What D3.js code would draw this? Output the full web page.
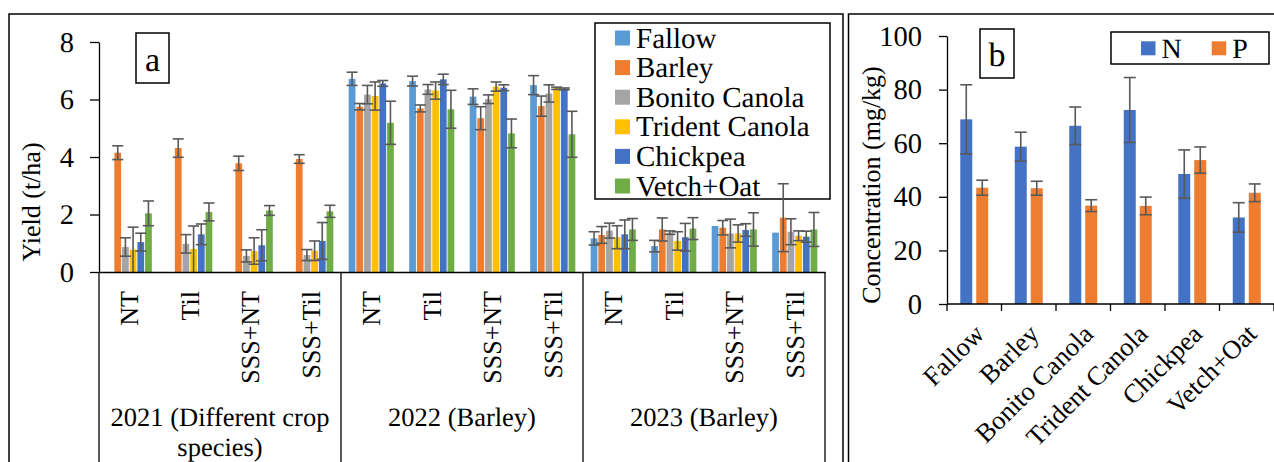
<!DOCTYPE html>
<html>
<head>
<meta charset="utf-8">
<script src="https://cdn.jsdelivr.net/npm/d3@7"></script>
<style>
  html, body { margin: 0; padding: 0; background: #fff; }
  svg { display: block; text-rendering: geometricPrecision; }
  svg text { font-family: "Liberation Serif", "Times New Roman", Times, serif !important; fill: #000; }
</style>
</head>
<body>
<svg id="chart" width="1274" height="462"></svg>
<script>
// ---- Panel a: yield by year and tillage treatment ----
const years = ["2021", "2022", "2023"];
const yearLabels = [["2021 (Different crop", "species)"], ["2022 (Barley)"], ["2023 (Barley)"]];
const treatments = ["NT", "Til", "SSS+NT", "SSS+Til"];
const crops = ["Fallow", "Barley", "Bonito Canola", "Trident Canola", "Chickpea", "Vetch+Oat"];
const cropColors = ["#5B9BD5", "#ED7D31", "#A5A5A5", "#FFC000", "#4472C4", "#70AD47"];
const yieldTicks = [0, 2, 4, 6, 8];

// yields (t/ha), ordered 2021 NT..SSS+Til, 2022 NT..SSS+Til, 2023 NT..SSS+Til
const fallowYield   = [null, null, null, null, 6.72, 6.64, 6.10, 6.50, 1.17, 0.90, 1.60, 1.37];
const fallowErr     = [null, null, null, null, 0.23, 0.17, 0.27, 0.33, 0.23, 0.20, null, null];
const barleyYield   = [4.15, 4.31, 3.78, 3.93, 5.75, 5.69, 5.35, 5.77, 1.29, 1.48, 1.54, 1.89];
const barleyErr     = [0.24, 0.32, 0.25, 0.15, 0.11, 0.12, 0.40, 0.35, 0.29, 0.40, 0.25, 1.18];
const bonitoYield   = [0.87, 0.98, 0.56, 0.59, 6.17, 6.35, 6.01, 6.21, 1.44, 1.37, 1.34, 1.40];
const bonitoErr     = [0.32, 0.32, 0.21, 0.19, 0.32, 0.17, 0.15, 0.30, 0.26, 0.06, 0.50, 0.45];
const tridentYield  = [0.78, 0.80, 0.73, 0.74, 6.12, 6.31, 6.45, 6.39, 1.21, 1.08, 1.34, 1.26];
const tridentErr    = [0.78, 0.80, 0.46, 0.34, 0.49, 0.30, 0.16, 0.04, 0.40, 0.32, 0.30, 0.17];
const chickpeaYield = [1.04, 1.31, 0.93, 1.08, 6.56, 6.70, 6.41, 6.37, 1.31, 1.21, 1.46, 1.23];
const chickpeaErr   = [0.31, 0.36, 0.54, 0.64, 0.10, 0.18, 0.10, 0.03, 0.50, 0.48, 0.22, 0.19];
const vetchYield    = [2.04, 2.09, 2.14, 2.11, 5.19, 5.66, 4.82, 4.79, 1.48, 1.51, 1.48, 1.48];
const vetchErr      = [0.43, 0.31, 0.17, 0.21, 0.75, 0.66, 0.50, 0.80, 0.38, 0.38, 0.58, 0.59];

// ---- Panel b: soil N and P under each crop ----
const nutrients = ["N", "P"];
const nutrientColors = ["#4472C4", "#ED7D31"];
const nValues = [68.9, 58.7, 66.5, 72.4, 48.5, 32.3];
const nErr    = [12.9, 5.4, 7.0, 12.1, 9.0, 5.5];
const pValues = [43.4, 43.2, 36.7, 36.6, 53.7, 41.5];
const pErr    = [2.8, 2.6, 2.2, 3.3, 4.9, 3.3];
const concTicks = [0, 20, 40, 60, 80, 100];

const yieldSeries = [
  [fallowYield, fallowErr], [barleyYield, barleyErr], [bonitoYield, bonitoErr],
  [tridentYield, tridentErr], [chickpeaYield, chickpeaErr], [vetchYield, vetchErr]
];

const svg = d3.select("#chart");
const errColor = "#595959";
const TICK_FONT = 28.5;
const LEGEND_FONT = 29;

// ---------- Panel frames ----------
svg.append("rect").attr("x", 9).attr("y", 14).attr("width", 834).attr("height", 470)
  .attr("fill", "none").attr("stroke", "#000").attr("stroke-width", 1.5);
svg.append("rect").attr("x", 848.5).attr("y", 14).attr("width", 440).attr("height", 470)
  .attr("fill", "none").attr("stroke", "#000").attr("stroke-width", 1.5);

// ---------- Panel a ----------
const aLeft = 99, aRight = 825, aTop = 42, aBottom = 272;
const keys = [];
years.forEach(yr => treatments.forEach(t => keys.push(yr + "|" + t)));

const x0 = d3.scaleBand().domain(keys).range([aLeft, aRight]);
const x1 = d3.scaleBand().domain(crops).range([0, x0.bandwidth()]).paddingInner(0.12).paddingOuter(1);
const xYear = d3.scaleBand().domain(years).range([aLeft, aRight]);
const yA = d3.scaleLinear().domain([0, 8]).range([aBottom, aTop]);

// legend (drawn first so error bars stay visible over it)
const legA = svg.append("g");
legA.append("rect").attr("x", 595).attr("y", 23).attr("width", 235).attr("height", 176)
  .attr("fill", "#fff").attr("stroke", "#000").attr("stroke-width", 1.5);
crops.forEach((c, i) => {
  const cy = 38 + i * 29.6;
  legA.append("rect").attr("x", 615).attr("y", cy - 7.5).attr("width", 15).attr("height", 15)
    .attr("fill", cropColors[i]);
  legA.append("text").attr("x", 636).attr("y", cy + 9.5).attr("font-size", LEGEND_FONT).text(c);
});

// bars
const barsA = svg.append("g");
yieldSeries.forEach(([vals, errs], ci) => {
  const crop = crops[ci];
  keys.forEach((k, ki) => {
    const v = vals[ki];
    if (v == null) return;
    const bx = x0(k) + x1(crop);
    barsA.append("rect")
      .attr("x", bx).attr("y", yA(v))
      .attr("width", x1.bandwidth()).attr("height", yA(0) - yA(v))
      .attr("fill", cropColors[ci]);
  });
});
// error bars
const errA = svg.append("g").attr("stroke", errColor).attr("stroke-width", 1.6);
yieldSeries.forEach(([vals, errs], ci) => {
  const crop = crops[ci];
  keys.forEach((k, ki) => {
    const v = vals[ki], e = errs[ki];
    if (v == null || e == null) return;
    const cx = x0(k) + x1(crop) + x1.bandwidth() / 2;
    const hi = yA(v + e), lo = yA(Math.max(0, v - e));
    errA.append("line").attr("x1", cx).attr("x2", cx).attr("y1", hi).attr("y2", lo);
    errA.append("line").attr("x1", cx - 5.5).attr("x2", cx + 5.5).attr("y1", hi).attr("y2", hi);
    if (v - e > 0) errA.append("line").attr("x1", cx - 5.5).attr("x2", cx + 5.5).attr("y1", lo).attr("y2", lo);
  });
});

// y axis
const yAxisA = svg.append("g").attr("transform", `translate(${aLeft},0)`)
  .call(d3.axisLeft(yA).tickValues(yieldTicks).tickSize(9).tickPadding(16).tickSizeOuter(0));
yAxisA.select(".domain").attr("stroke", "#000").attr("stroke-width", 1.3);
yAxisA.selectAll(".tick line").attr("stroke", "#000").attr("stroke-width", 1.3);
yAxisA.selectAll("text").attr("font-size", TICK_FONT);

svg.append("text").attr("transform", `translate(39.5,202) rotate(-90)`)
  .attr("text-anchor", "middle").attr("font-size", 26).text("Yield (t/ha)");

// category axis (treatments, then years)
const xAxisA = svg.append("g").attr("transform", `translate(0,${aBottom})`)
  .call(d3.axisBottom(x0).tickSize(0).tickSizeOuter(0).tickFormat(k => k.split("|")[1]));
xAxisA.select(".domain").attr("stroke", "#000").attr("stroke-width", 1.5);
xAxisA.selectAll(".tick text")
  .attr("font-size", 26)
  .attr("text-anchor", "end")
  .attr("transform", "rotate(-90)")
  .attr("x", -19).attr("y", 0).attr("dy", "0.35em");

const yearDividers = years.map(y => xYear(y)).concat([aRight]);
svg.append("g").selectAll("line").data(yearDividers).join("line")
  .attr("x1", d => d).attr("x2", d => d).attr("y1", aBottom).attr("y2", 470)
  .attr("stroke", "#000").attr("stroke-width", 1.3);

// year labels, one text per line so wrapped lines keep clear of each other
years.forEach((y, i) => {
  yearLabels[i].forEach((line, li) => {
    svg.append("text").attr("text-anchor", "middle").attr("font-size", 26.5)
      .attr("x", xYear(y) + xYear.bandwidth() / 2).attr("y", 426 + li * 30).text(line);
  });
});

// panel tag
svg.append("rect").attr("x", 136).attr("y", 33).attr("width", 33).attr("height", 50)
  .attr("fill", "#fff").attr("stroke", "#000").attr("stroke-width", 1.5);
svg.append("text").attr("x", 152.5).attr("y", 71).attr("text-anchor", "middle")
  .attr("font-size", 34).text("a");

// ---------- Panel b ----------
const bLeft = 947, bRight = 1274, bTop = 36, bBottom = 304;
const xb0 = d3.scaleBand().domain(crops).range([bLeft, bRight]);
const xb1 = d3.scaleBand().domain(nutrients).range([0, xb0.bandwidth()]).paddingInner(0.25).paddingOuter(0.83);
const yB = d3.scaleLinear().domain([0, 100]).range([bBottom, bTop]);

const nutrientSeries = [[nValues, nErr], [pValues, pErr]];
const barsB = svg.append("g");
nutrientSeries.forEach(([vals], ni) => {
  crops.forEach((c, ci) => {
    barsB.append("rect")
      .attr("x", xb0(c) + xb1(nutrients[ni])).attr("y", yB(vals[ci]))
      .attr("width", xb1.bandwidth()).attr("height", yB(0) - yB(vals[ci]))
      .attr("fill", nutrientColors[ni]);
  });
});
const errB = svg.append("g").attr("stroke", errColor).attr("stroke-width", 1.6);
nutrientSeries.forEach(([vals, errs], ni) => {
  crops.forEach((c, ci) => {
    const cx = xb0(c) + xb1(nutrients[ni]) + xb1.bandwidth() / 2;
    const hi = yB(vals[ci] + errs[ci]), lo = yB(vals[ci] - errs[ci]);
    errB.append("line").attr("x1", cx).attr("x2", cx).attr("y1", hi).attr("y2", lo);
    errB.append("line").attr("x1", cx - 6).attr("x2", cx + 6).attr("y1", hi).attr("y2", hi);
    errB.append("line").attr("x1", cx - 6).attr("x2", cx + 6).attr("y1", lo).attr("y2", lo);
  });
});

const yAxisB = svg.append("g").attr("transform", `translate(${bLeft},0)`)
  .call(d3.axisLeft(yB).tickValues(concTicks).tickSize(8).tickPadding(17).tickSizeOuter(0));
yAxisB.select(".domain").attr("stroke", "#000").attr("stroke-width", 1.3);
yAxisB.selectAll(".tick line").attr("stroke", "#000").attr("stroke-width", 1.3);
yAxisB.selectAll("text").attr("font-size", TICK_FONT);

svg.append("text").attr("transform", `translate(879.5,185) rotate(-90)`)
  .attr("text-anchor", "middle").attr("font-size", 26).text("Concentration (mg/kg)");

// x axis with boundary ticks
svg.append("line").attr("x1", bLeft).attr("x2", bRight).attr("y1", bBottom).attr("y2", bBottom)
  .attr("stroke", "#000").attr("stroke-width", 1.5);
const bounds = crops.map(c => xb0(c)).concat([bRight]);
svg.append("g").selectAll("line").data(bounds).join("line")
  .attr("x1", d => d).attr("x2", d => d).attr("y1", bBottom).attr("y2", bBottom + 7)
  .attr("stroke", "#000").attr("stroke-width", 1.3);
svg.append("g").selectAll("text").data(crops).join("text")
  .attr("transform", c => `translate(${xb0(c) + xb0.bandwidth() / 2 + 5},329) rotate(-45)`)
  .attr("text-anchor", "end").attr("dy", "0.35em").attr("font-size", 26.5).text(c => c);

// legend
const legB = svg.append("g");
legB.append("rect").attr("x", 1111).attr("y", 32).attr("width", 158).attr("height", 32)
  .attr("fill", "#fff").attr("stroke", "#000").attr("stroke-width", 1.5);
nutrients.forEach((n, i) => {
  const sx = 1141 + i * 70.7;
  legB.append("rect").attr("x", sx).attr("y", 41.3).attr("width", 14.5).attr("height", 14)
    .attr("fill", nutrientColors[i]);
  legB.append("text").attr("x", sx + 20.5).attr("y", 57.5).attr("font-size", 28).text(n);
});

// panel tag
svg.append("rect").attr("x", 980).attr("y", 29).attr("width", 34).attr("height", 49)
  .attr("fill", "#fff").attr("stroke", "#000").attr("stroke-width", 1.5);
svg.append("text").attr("x", 997).attr("y", 66).attr("text-anchor", "middle")
  .attr("font-size", 34).text("b");
</script>
</body>
</html>
